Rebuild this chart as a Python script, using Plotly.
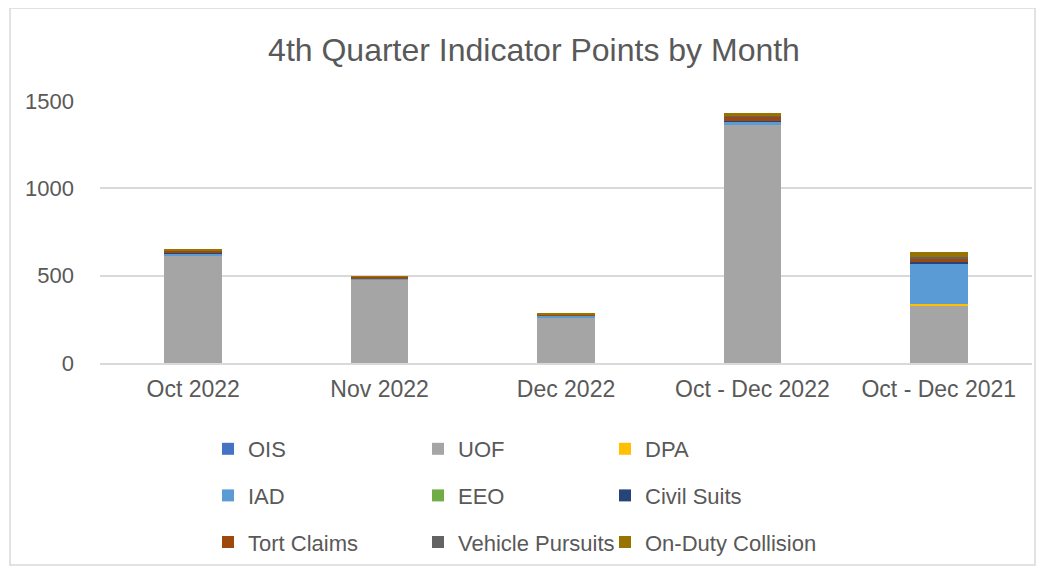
import plotly.graph_objects as go

categories = ["Oct 2022", "Nov 2022", "Dec 2022", "Oct - Dec 2022", "Oct - Dec 2021"]

ois = [0, 0, 0, 0, 0]
uof = [618, 480, 262, 1360, 332]
dpa = [0, 0, 0, 0, 3]
iad = [10, 5, 8, 23, 235]
eeo = [0, 0, 0, 0, 0]
civil_suits = [2, 1, 1, 4, 6]
tort_claims = [12, 7, 7, 26, 25]
vehicle_pursuits = [1, 1, 1, 3, 8]
on_duty_collision = [7, 3, 5, 15, 25]

series = [
    ("OIS", ois, "#4472C4", "legend"),
    ("UOF", uof, "#A5A5A5", "legend2"),
    ("DPA", dpa, "#FFC000", "legend3"),
    ("IAD", iad, "#5B9BD5", "legend"),
    ("EEO", eeo, "#70AD47", "legend2"),
    ("Civil Suits", civil_suits, "#264478", "legend3"),
    ("Tort Claims", tort_claims, "#9E480E", "legend"),
    ("Vehicle Pursuits", vehicle_pursuits, "#636363", "legend2"),
    ("On-Duty Collision", on_duty_collision, "#997300", "legend3"),
]

FONT = "Liberation Sans, Arial, sans-serif"
GREY = "#595959"
W, H = 1040, 563
PW, PH = 932, 262  # plot area size in px

fig = go.Figure()
for name, vals, color, leg in series:
    fig.add_trace(go.Bar(
        x=categories, y=vals, name=name, legend=leg, legendgroup=name,
        marker=dict(color=color, line=dict(width=0)),
    ))

leg_common = dict(
    orientation="v", yref="container", xref="container",
    yanchor="top", y=(H - 420) / H, xanchor="left",
    traceorder="grouped", tracegroupgap=15, itemwidth=30,
    font=dict(family=FONT, size=22, color=GREY), bgcolor="rgba(0,0,0,0)",
)

fig.update_layout(
    width=W, height=H,
    barmode="stack", bargap=0.69,
    paper_bgcolor="white", plot_bgcolor="white",
    margin=dict(l=92, r=16, t=93, b=208, autoexpand=False),
    title=dict(text="4th Quarter Indicator Points by Month", x=526 / W, xref="container",
               xanchor="center", y=(H - 42) / H, yanchor="middle",
               font=dict(family=FONT, size=32, color=GREY)),
    font=dict(family=FONT, color=GREY),
    legend=dict(x=200 / W, **leg_common),
    legend2=dict(x=410 / W, **leg_common),
    legend3=dict(x=597 / W, **leg_common),
    shapes=[dict(type="rect", xref="paper", yref="paper",
                 x0=-90 / PW, x1=935 / PW, y0=-202 / PH, y1=355 / PH,
                 line=dict(color="#D9D9D9", width=1.5), layer="below")],
)
fig.update_xaxes(showgrid=False, showline=True, linecolor="#D9D9D9", linewidth=1.5,
                 ticks="", ticklabelstandoff=5,
                 tickfont=dict(family=FONT, size=23, color=GREY))
fig.update_yaxes(range=[0, 1500], dtick=500, showgrid=True, gridcolor="#D9D9D9",
                 gridwidth=1.5, zeroline=False, ticks="", ticklabelstandoff=25,
                 tickfont=dict(family=FONT, size=22, color=GREY))

fig.write_html("out.html")
